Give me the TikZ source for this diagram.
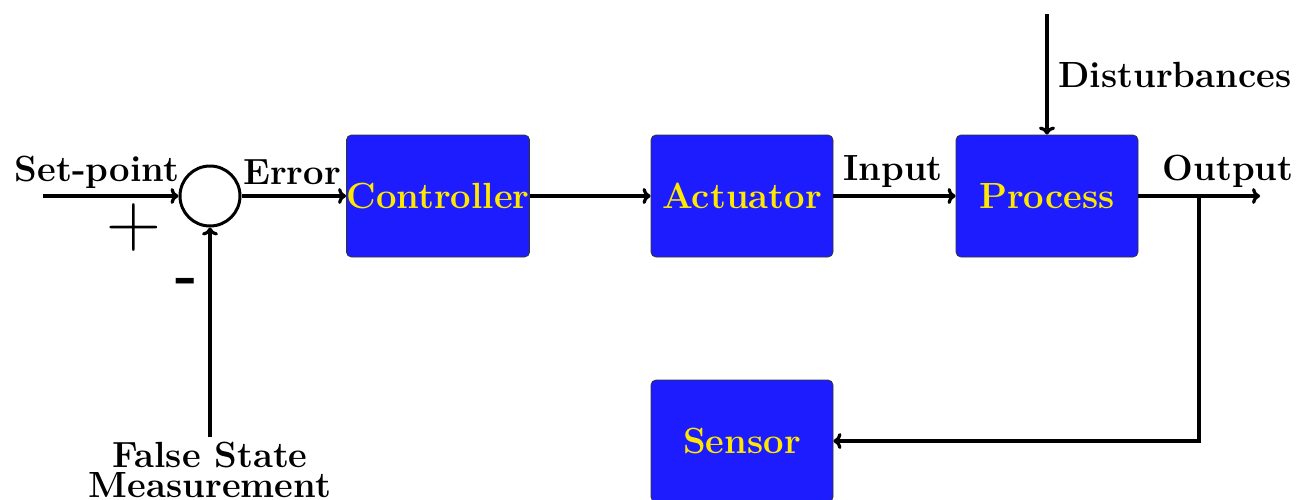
\documentclass[tikz,border=0pt]{standalone}
\usetikzlibrary{arrows.meta,calc}
\definecolor{boxblue}{RGB}{28,28,255}
\definecolor{boxtext}{RGB}{255,232,0}
\begin{document}
\begin{tikzpicture}[x=0.5pt,y=-0.5pt,
  bigfont/.style={font=\fontsize{18.2}{15}\selectfont\bfseries},
  blockbox/.style={draw=black!80,line width=0.4pt,fill=boxblue,rounded corners=2.5pt,
    minimum width=91pt,minimum height=61pt,inner sep=0pt,text=boxtext,bigfont},
  sumnode/.style={draw,circle,line width=1.5pt,minimum size=30pt,inner sep=0pt},
  conn/.style={line width=1.6pt,-{To[length=4pt,width=8pt]}},
  lbl/.style={bigfont,anchor=base,inner sep=0pt}]
\useasboundingbox (0,0) rectangle (1301,499);
\node[sumnode] (sum) at (210,196) {};
\node[blockbox] (ctrl) at (438,196) {Controller};
\node[blockbox] (act) at (742,196) {Actuator};
\node[blockbox] (proc) at (1047,196) {Process};
\node[blockbox] (sens) at (742,441) {Sensor};
\coordinate (spin) at (43,196);
\coordinate (out) at (1260,196);
\coordinate (tap) at (1199,196);
\coordinate (fsm) at (210,437);
\coordinate (dist) at (1047,14);
\node[lbl] (lsp) at (97,181) {Set-point};
\node[lbl] (lerr) at (292,184) {Error};
\node[lbl] (lin) at (893,180) {Input};
\node[lbl] (lout) at (1228,180) {Output};
\node[lbl] (ldist) at (1175,87) {Disturbances};
\node[lbl,align=center] (lfs) at (210,497) {False State\\Measurement};
\node[inner sep=0pt] (plus) at (134,228) {\fontsize{38}{38}\selectfont\normalfont +};
\node[inner sep=0pt] (minus) at (187,286) {\fontsize{30}{30}\selectfont\bfseries -};
\draw[conn] (spin) -- (sum.west);
\draw[conn] (sum.east) -- (ctrl.west);
\draw[conn] (ctrl.east) -- (act.west);
\draw[conn] (act.east) -- (proc.west);
\draw[conn] (proc.east) -- (out);
\draw[conn] (dist) -- (proc.north);
\draw[conn] (tap) |- (sens.east);
\draw[conn] (fsm) -- (sum.south);
\end{tikzpicture}
\end{document}
